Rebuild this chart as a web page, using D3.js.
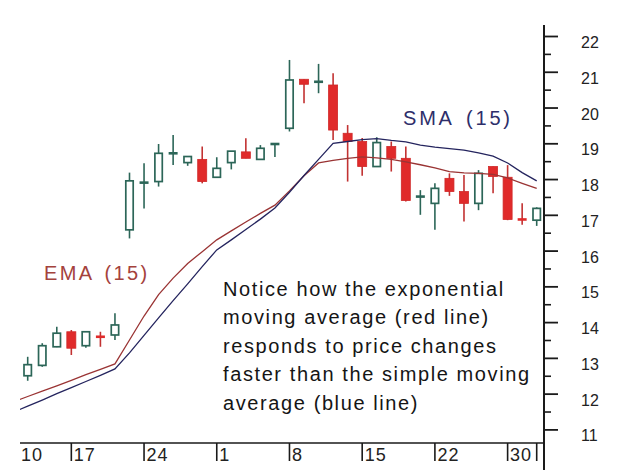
<!DOCTYPE html>
<html>
<head>
<meta charset="utf-8">
<script src="https://cdn.jsdelivr.net/npm/d3@7/dist/d3.min.js"></script>
<style>
  html, body { margin: 0; padding: 0; background: #ffffff; }
  svg { display: block; }
  text { font-family: "Liberation Sans", Arial, sans-serif; }
</style>
</head>
<body>
<svg id="chart" width="620" height="470"></svg>
<script>
// ---- data ----
const opens  = [12.50,12.79,13.31,13.73,13.34,13.62,13.64,16.58,17.88,17.93,18.70,18.46,18.55,18.05,18.46,18.76,18.55,18.97,19.42,20.79,20.70,20.63,19.28,19.05,18.35,18.91,18.58,17.48,17.32,18.02,17.65,17.32,18.35,18.05,16.89,16.85];
const highs  = [13.03,13.41,13.87,13.78,13.75,13.73,14.25,18.18,18.44,18.98,19.23,18.63,18.91,18.61,18.78,19.14,18.95,18.99,21.33,20.79,21.22,20.96,19.51,19.15,19.17,19.05,18.91,17.69,17.88,18.16,18.11,18.25,18.35,18.39,17.32,17.21];
const lows   = [12.36,12.75,13.30,13.08,13.28,13.31,13.50,16.34,17.18,17.79,18.39,18.37,17.88,18.05,18.27,18.58,18.55,18.62,19.33,20.12,20.40,19.09,17.93,18.09,18.35,18.21,17.37,17.00,16.58,17.53,16.81,17.13,17.60,16.85,16.72,16.69];
const closes = [12.81,13.34,13.69,13.27,13.73,13.56,13.92,17.95,17.92,18.72,18.74,18.63,17.93,18.30,18.78,18.58,18.86,18.99,20.77,20.65,20.74,19.37,19.05,18.35,19.02,18.58,17.40,17.54,17.74,17.65,17.32,18.16,18.07,16.87,16.85,17.18];

// moving averages, one value per bar, starting one bar before the first candle
const maFirstBar = -1;
const sma15 = [11.48,11.65,11.82,12.00,12.17,12.34,12.51,12.69,13.14,13.63,14.12,14.60,15.07,15.55,16.02,16.30,16.59,16.88,17.19,17.63,18.10,18.55,19.00,19.05,19.10,19.13,19.08,19.04,18.95,18.89,18.85,18.81,18.73,18.64,18.45,18.18,17.95];
const ema15 = [11.77,11.92,12.07,12.22,12.37,12.53,12.68,12.83,13.50,14.17,14.77,15.23,15.64,15.97,16.30,16.55,16.80,17.04,17.27,17.67,18.09,18.45,18.52,18.58,18.62,18.59,18.55,18.48,18.40,18.31,18.21,18.17,18.16,18.13,18.03,17.88,17.74];

const yTickValues = [11,12,13,14,15,16,17,18,19,20,21,22];
const yMinorValues = [11.5,12.5,13.5,14.5,15.5,16.5,17.5,18.5,19.5,20.5,21.5];
const xTickBars   = [-2, 3, 8, 13, 18, 23, 28, 33, 35];
const xTickLabels = ["10","17","24","1","8","15","22","30",""];

const noteLines = [
  "Notice how the exponential",
  "moving average (red line)",
  "responds to price changes",
  "faster than the simple moving",
  "average (blue line)"
];

// ---- layout ----
const plotLeft = 20, plotRight = 544, plotBottom = 443;
const svg = d3.select("#chart");
svg.append("rect").attr("width", 620).attr("height", 470).attr("fill", "#ffffff");

const x = d3.scaleLinear().domain([0, opens.length - 1]).range([27.7, 536.7]);
const y = d3.scaleLinear().domain([11, 22]).range([429.4, 36]);

svg.append("clipPath").attr("id", "plotclip")
  .append("rect").attr("x", plotLeft).attr("y", 0)
  .attr("width", plotRight - plotLeft).attr("height", plotBottom);

const upColor = "#2c6658", downColor = "#e02a2a", downWick = "#c23232";
const bodyW = 9;

const bars = opens.map((o, i) => ({ i, o, h: highs[i], l: lows[i], c: closes[i] }));
const gC = svg.append("g").attr("clip-path", "url(#plotclip)");

bars.forEach(d => {
  const up = d.c >= d.o;
  const col = up ? upColor : downColor;
  const cx = x(d.i);
  gC.append("line")
    .attr("x1", cx).attr("x2", cx)
    .attr("y1", y(d.h)).attr("y2", y(d.l))
    .attr("stroke", up ? upColor : downWick).attr("stroke-width", 1.6);
  const top = y(Math.max(d.o, d.c)), bot = y(Math.min(d.o, d.c));
  if (Math.abs(d.c - d.o) < 0.08) {
    gC.append("line")
      .attr("x1", cx - bodyW / 2).attr("x2", cx + bodyW / 2)
      .attr("y1", (top + bot) / 2).attr("y2", (top + bot) / 2)
      .attr("stroke", col).attr("stroke-width", 2.6);
  } else if (up) {
    gC.append("rect")
      .attr("x", cx - bodyW / 2 + 0.8).attr("y", top)
      .attr("width", bodyW - 1.6).attr("height", bot - top)
      .attr("fill", "#ffffff").attr("stroke", upColor).attr("stroke-width", 1.7);
  } else {
    gC.append("rect")
      .attr("x", cx - bodyW / 2).attr("y", top)
      .attr("width", bodyW).attr("height", bot - top)
      .attr("fill", downColor).attr("stroke", "#d02828").attr("stroke-width", 0.8);
  }
});

// moving average lines
const maLine = d3.line().x((v, k) => x(k + maFirstBar)).y(v => y(v));
gC.append("path").datum(ema15).attr("d", maLine)
  .attr("fill", "none").attr("stroke", "#9a3434").attr("stroke-width", 1.3);
gC.append("path").datum(sma15).attr("d", maLine)
  .attr("fill", "none").attr("stroke", "#24245e").attr("stroke-width", 1.3);

// ---- y axis (right) ----
const axisColor = "#1a1a1a";
const yAxis = d3.axisRight(y).tickValues(yTickValues).tickSize(14).tickFormat(d3.format("d"));
const gy = svg.append("g").attr("transform", `translate(${plotRight},0)`).call(yAxis);
gy.select(".domain").remove();
gy.selectAll(".tick line").attr("stroke", axisColor).attr("stroke-width", 1.8);
gy.selectAll(".tick text")
  .attr("x", 37).attr("dy", "0.72em")
  .attr("fill", "#222").attr("font-size", 16)
  .attr("font-family", "'Liberation Sans', Arial, sans-serif");
const gyMinor = svg.append("g").attr("transform", `translate(${plotRight},0)`)
  .call(d3.axisRight(y).tickValues(yMinorValues).tickSize(7).tickFormat(""));
gyMinor.select(".domain").remove();
gyMinor.selectAll(".tick line").attr("stroke", axisColor).attr("stroke-width", 1.6);
svg.append("line").attr("x1", plotRight).attr("x2", plotRight)
  .attr("y1", 25).attr("y2", 470).attr("stroke", axisColor).attr("stroke-width", 2);

// ---- x axis (bottom) ----
svg.append("line").attr("x1", plotLeft).attr("x2", plotRight)
  .attr("y1", plotBottom).attr("y2", plotBottom)
  .attr("stroke", axisColor).attr("stroke-width", 1.6);
xTickBars.forEach((b, k) => {
  const tx = x(b);
  if (tx >= plotLeft) {
    svg.append("line").attr("x1", tx).attr("x2", tx)
      .attr("y1", plotBottom).attr("y2", plotBottom + 18)
      .attr("stroke", axisColor).attr("stroke-width", 1.6);
  }
  const lx = Math.max(tx + 2.5, plotLeft + 1);
  svg.append("text").attr("x", lx).attr("y", plotBottom + 18)
    .attr("font-size", 18).attr("fill", "#222").attr("letter-spacing", 1)
    .text(xTickLabels[k]);
});

// ---- labels ----
svg.append("text").attr("x", 403).attr("y", 125)
  .attr("font-size", 20).attr("letter-spacing", 2.8).attr("word-spacing", 4)
  .attr("fill", "#2e2e6a").text("SMA (15)");
svg.append("text").attr("x", 44).attr("y", 280)
  .attr("font-size", 20).attr("letter-spacing", 2.4).attr("word-spacing", 3)
  .attr("fill", "#a4423c").text("EMA (15)");

const note = svg.append("text").attr("x", 223).attr("y", 295)
  .attr("font-size", 20).attr("letter-spacing", 1.6).attr("fill", "#151515");
noteLines.forEach((t, k) => {
  note.append("tspan").attr("x", 223).attr("y", 296 + k * 28.4).text(t);
});
</script>
</body>
</html>
